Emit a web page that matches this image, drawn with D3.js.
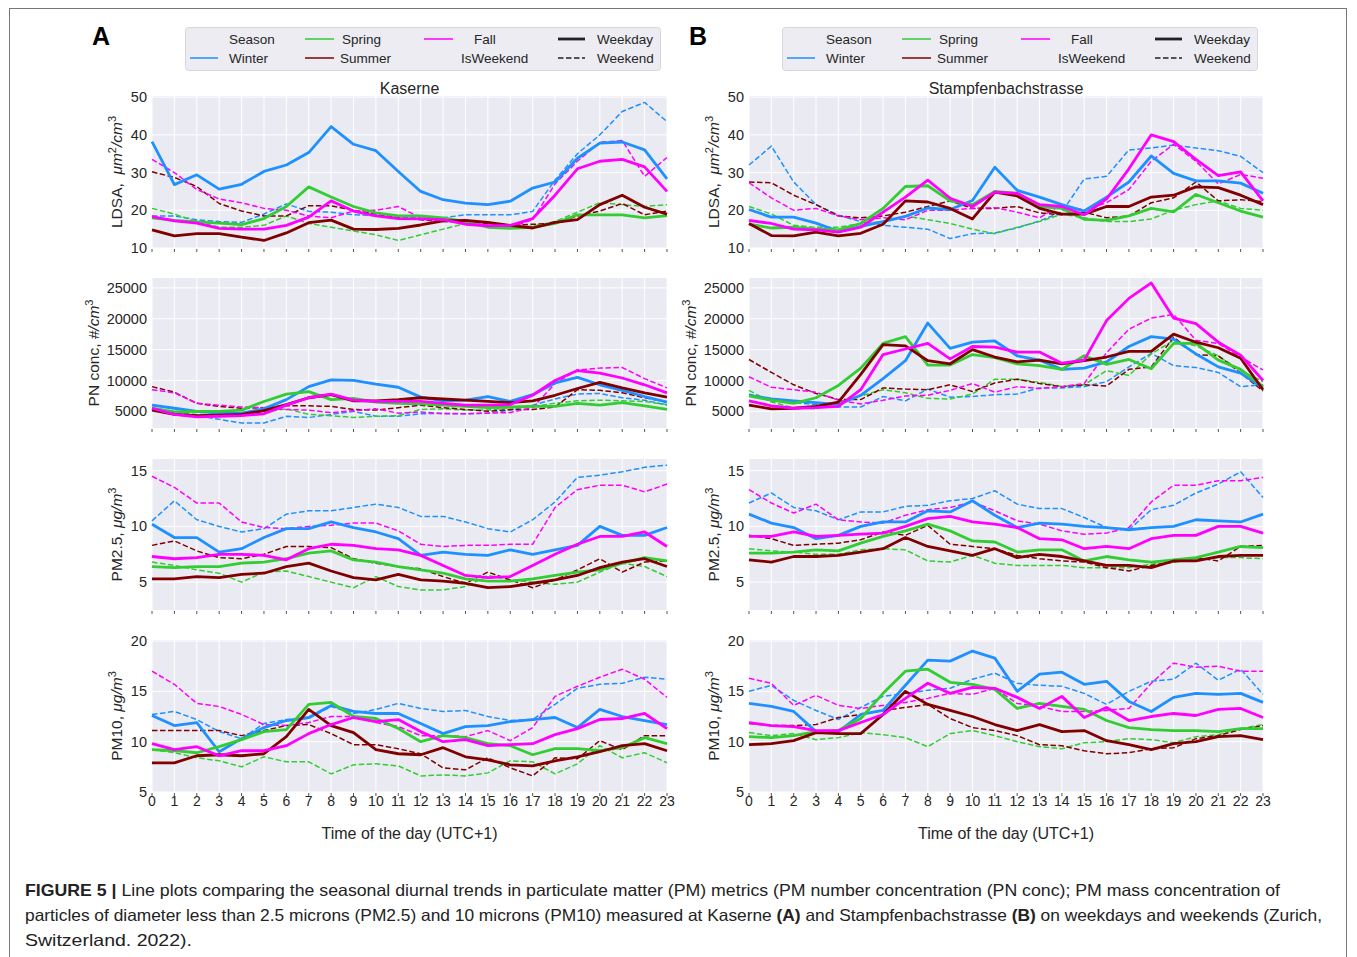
<!DOCTYPE html>
<html><head><meta charset="utf-8">
<script src="https://cdn.jsdelivr.net/npm/d3@7"></script>
<style>body{margin:0;background:#fff}svg{display:block}text{white-space:pre}</style>
</head><body>
<svg id="chart" width="1357" height="957"></svg>
<script>
// ---------------- data ----------------
const hours = [0,1,2,3,4,5,6,7,8,9,10,11,12,13,14,15,16,17,18,19,20,21,22,23];
const seasons = ["Winter","Spring","Summer","Fall"];
const dayTypes = ["Weekday","Weekend"];
const sites = ["Kaserne","Stampfenbachstrasse"];
const metrics = ["LDSA","PN","PM25","PM10"];
const ticksLDSA = [10,20,30,40,50];
const ticksPN = [5000,10000,15000,20000,25000];
const ticksPM25 = [5,10,15];
const ticksPM10 = [5,10,15,20];

// Kaserne – LDSA (µm²/cm³)
const kasLdsaWinterWd = [38.2,26.8,29.4,25.6,26.9,30.3,32,35.3,42.2,37.5,35.8,30.3,25,22.8,21.9,21.5,22.4,25.9,27.5,33.8,37.8,38.1,36,28.3];
const kasLdsaWinterWe = [18.5,18.5,17.5,17,16.8,19,21.7,19.7,19.5,18.8,18.6,18.4,17.8,18,18.8,18.8,18.8,19.7,28,35,40,46.2,48.6,43.5];
const kasLdsaSpringWd = [18,17.3,16.9,16.6,16.2,17.8,21,26.2,23.5,21,19.3,18.5,18.5,18,17,15.5,15.2,15.5,16.5,18.8,18.8,18.8,18,18.6];
const kasLdsaSpringWe = [20.5,19,17,15.5,15.5,16,18.5,16.5,15.5,14.5,13.5,12,13.5,15,16.5,16,15.5,15.8,17,19.5,22,21.5,21,21.5];
const kasLdsaSummerWd = [14.8,13.2,13.8,13.8,12.9,12,14,16.7,17.4,15,14.9,15.2,16.1,17.2,17.3,16.8,16,15.3,16.8,17.5,21.5,24,20.8,19];
const kasLdsaSummerWe = [30.2,28.7,26.3,21.8,19.8,18.5,18.5,21.2,21.2,20,19,18,17.5,17,17,16.5,16,16.3,16.5,18.5,19.8,21.8,18.8,19.8];
const kasLdsaFallWd = [18.3,17.2,16.6,15.2,15,15,16,18.2,22.5,19.8,18.5,17.8,17.7,17.5,16.3,15.9,16,17.8,24,31,33,33.5,31.5,25];
const kasLdsaFallWe = [33.5,30,25.5,23,22,20.5,20,18.5,18,19.8,20,21,18,17.5,17,16,15.5,17.5,27,33,38,38.5,29,34];

// Stampfenbachstrasse – LDSA
const staLdsaWinterWd = [20.2,18.2,18.2,16.6,14.4,15.7,17,18.4,20.6,20.2,22.6,31.4,25.3,23.5,21.5,19.8,23.5,27.5,34.4,29.8,27.8,27.8,27.2,24.5];
const staLdsaWinterWe = [32,37,27.5,21.5,18.7,17,16,15.5,15,12.5,13.8,14,15.3,17.2,19.5,28.3,29,36,36.5,37.3,36.5,35.8,34.3,30];
const staLdsaSpringWd = [16.3,15.3,15.5,15,14.8,16.5,20.5,26.3,26.5,22.5,21.5,25,24.5,21,20.5,17.6,17.3,18.5,20.5,19.6,24.2,22,19.8,18.2];
const staLdsaSpringWe = [21,19,16,15.5,15.5,16.5,17,18.5,17.5,16.5,15,13.8,15.5,17,19,18,17,17,17.7,20,21.5,22.5,20.5,20];
const staLdsaSummerWd = [16.5,13.3,13.2,14.2,13.2,13.9,16.3,22.5,22.2,20.5,17.7,24.8,23.8,20.5,19,19,21,21,23.5,24,26.2,26,24,21.5];
const staLdsaSummerWe = [27.5,27.3,24,21.5,18.5,18,18.5,19.5,21,22.5,20.5,20.5,21,19.3,18.8,19.5,18,18.5,22,23.3,27.5,22.5,22.8,22.3];
const staLdsaFallWd = [17.3,16.5,15,14.8,14.2,15.5,19.5,23.5,28,23.2,21,24.8,24.5,21.5,21,18.8,23,31,40,38.2,33.5,29.2,30.2,22.5];
const staLdsaFallWe = [27.3,23.3,20,20.5,18.5,17.5,18,17.5,20,20,20.5,20.7,19.5,18,21.5,20,22,25.5,33,37.5,33,27,29.5,28.5];

// Kaserne – PN conc (#/cm³)
const kasPnWinterWd = [6000,5500,5000,4700,4700,5400,6900,9000,10100,10000,9400,8900,7300,6700,6800,7400,6600,7700,9600,10500,9300,8400,7400,6500];
const kasPnWinterWe = [5500,5000,4300,3700,3100,3100,4200,4000,4500,5000,4200,4200,4600,4700,4600,4700,5200,6000,7000,7800,7900,7200,6800,6000];
const kasPnSpringWd = [5500,4900,5000,5000,5200,6600,7800,8200,6900,7100,6500,6300,6200,6000,5800,5600,5700,5800,5800,6300,6000,6400,5900,5300];
const kasPnSpringWe = [5200,4800,4500,4500,4600,4900,5400,4500,4300,4000,4200,4300,5300,5400,5200,5200,5600,5800,6300,6700,6800,6700,6600,6100];
const kasPnSummerWd = [5200,4500,4300,4400,4500,5100,6100,7200,7700,6700,6700,6900,7200,7000,6800,6600,6400,6700,7600,8700,9700,8800,8000,7300];
const kasPnSummerWe = [9000,8100,6300,5800,5500,5600,5900,5900,5800,5300,5200,5600,6000,5600,5300,5000,5300,5300,5700,8500,8400,8000,7200,6500];
const kasPnFallWd = [5500,4500,4100,4200,4300,4600,6000,7200,7800,6800,6600,6600,6600,6300,6000,6000,6100,7600,10000,11600,11200,10400,9300,8000];
const kasPnFallWe = [8500,8000,6300,6000,5700,5600,5300,5200,4800,5100,5400,4700,4900,4600,4600,4700,4800,5600,9500,11700,12000,12100,10300,8800];

// Stampfenbachstrasse – PN conc
const staPnWinterWd = [7600,7000,6700,6400,6100,7600,10300,13200,19300,15200,16200,16400,14000,13300,11800,12000,13000,15500,17100,16700,14300,12200,11200,8800];
const staPnWinterWe = [7800,6700,6400,6100,5700,5700,7400,6700,8600,7300,7400,7700,7800,8800,8800,9000,9800,12200,14400,12400,12100,11300,9000,9300];
const staPnSpringWd = [7500,6800,6300,7200,9200,12000,16000,17100,12500,12500,14200,13700,12700,12400,11800,14000,12600,13400,11900,16000,16000,13300,11800,9000];
const staPnSpringWe = [8400,6500,5600,5400,6500,7500,8500,8000,7100,7000,7800,10200,10200,9700,9000,9300,11600,10800,14300,16500,15600,14000,11600,9800];
const staPnSummerWd = [6000,5400,5500,5800,6500,11000,15800,15600,13200,12700,15000,13800,13000,13300,12700,13200,13800,14700,14700,17500,16200,15300,13600,8500];
const staPnSummerWe = [13400,11300,9300,7900,6900,6900,8800,8600,8500,9300,8200,9600,10200,9500,9000,9300,9100,11800,12200,17000,14200,14000,11200,8300];
const staPnFallWd = [6700,5900,5500,5600,5800,8500,14200,15100,16000,13500,15500,15400,14600,14600,12800,13300,19700,23300,25800,20100,19200,16200,14100,10000];
const staPnFallWe = [10600,8900,8500,8100,6800,6200,6800,7500,7600,8400,9500,8100,9000,8700,9000,9500,14500,18300,20100,20700,16500,16000,13800,11700];

// Kaserne – PM2.5 (µg/m³)
const kasPm25WinterWd = [10.2,9,9,7.7,8,9,9.8,9.8,10.4,9.9,9.5,8.9,7.4,7.7,7.5,7.4,7.9,7.5,7.9,8.3,10,9.2,9.2,9.9];
const kasPm25WinterWe = [10.5,12.3,10.6,10,9.5,9.8,11.1,11.4,11.4,11.7,12,11.7,10.9,10.9,10.4,9.8,9.5,10.6,12.2,14.4,14.6,14.9,15.3,15.5];
const kasPm25SpringWd = [6.4,6.3,6.4,6.4,6.7,6.8,7.1,7.6,7.8,7,6.8,6.4,6.1,5.8,5.3,5.1,5.1,5.3,5.6,5.9,6.1,6.7,7.2,6.9];
const kasPm25SpringWe = [6.8,6.5,6.1,5.8,5,5.9,6,5.5,5,4.5,5.5,4.6,4.3,4.3,4.6,5.6,5.2,5,4.8,5,5.9,6.7,6.4,5.5];
const kasPm25SummerWd = [5.3,5.3,5.5,5.4,5.7,5.8,6.4,6.7,6,5.4,5.2,5.7,5.2,5.1,4.9,4.5,4.6,4.9,5.2,5.6,6.3,6.8,7.1,6.4];
const kasPm25SummerWe = [8.3,8.7,7.8,7.2,7.1,7.5,8.2,8.2,8.1,7.1,6.7,6.4,6.2,5.5,4.9,5.9,5.2,4.5,5.2,6.1,7.1,5.9,6.8,6.9];
const kasPm25FallWd = [7.3,7.1,7.2,7.5,7.5,7.4,7,8,8.4,8.3,8,7.9,7.4,6.5,5.6,5.4,5.5,6.5,7.5,8.4,9.1,9.1,9.5,8.2];
const kasPm25FallWe = [14.5,13.5,12.1,12.1,10.4,9.9,9.8,10,10.1,10.3,10.3,9.6,8.4,8.2,8.3,8.3,8.4,8.4,11.7,13.3,13.7,13.7,13.1,13.8];

// Stampfenbachstrasse – PM2.5
const staPm25WinterWd = [11.1,10.3,9.9,8.9,9.2,10,10.4,10.4,11.4,11.3,12.3,11,9.9,10.3,10.2,10,9.9,9.7,9.9,10,10.6,10.5,10.4,11.1];
const staPm25WinterWe = [12.1,13,11.7,11.4,10.6,11.3,11.3,11.8,11.9,12.3,12.5,13.2,12,11.6,11.6,10.8,9.9,9.7,11.5,11.9,13,13.8,14.9,12.6];
const staPm25SpringWd = [7.6,7.6,7.7,7.9,7.8,8.5,9.1,9.6,10.2,9.6,8.7,8.6,7.7,7.9,7.9,6.9,7.3,7,6.8,7,7.2,7.7,8.2,8.1];
const staPm25SpringWe = [8,7.8,7.7,7.5,7.5,7.9,8,7.9,6.9,6.8,7.4,6.7,6.5,6.5,6.5,6.3,6.3,6.3,6.6,6.8,7,7.2,7.2,7.1];
const staPm25SummerWd = [7,6.8,7.3,7.3,7.4,7.7,8,9,8.2,7.8,7.4,8,7.2,7.5,7.3,6.9,6.5,6.5,6.3,6.9,6.9,7.3,7.4,7.4];
const staPm25SummerWe = [9.2,8.9,8.3,8.4,8.5,8.8,9.5,9.2,10.1,8.4,8.2,8,7.4,7.1,6.9,6.8,6.3,6,6.5,6.8,7.2,6.9,8.2,8.3];
const staPm25FallWd = [9.1,9.1,9.5,9.1,9.2,9.3,9.4,10,10.7,10.9,10.4,10.2,9.9,8.9,8.8,8,8.2,8,8.9,9.2,9.2,10,10,9.4];
const staPm25FallWe = [13.3,12.1,11.2,12,10.6,10.4,10.3,11,11.5,11.7,12.2,11.4,10.5,10.2,9.6,9.3,9.4,9.9,12.2,13.7,13.7,14.1,14.1,14.4];

// Kaserne – PM10 (µg/m³)
const kasPm10WinterWd = [12.6,11.6,11.9,9,10.3,11.4,12.1,12.4,13.6,13,12.8,12.8,11.8,10.8,11.5,11.6,12,12.2,12.4,11.4,13.2,12.5,12.1,11.7];
const kasPm10WinterWe = [12.7,13,12.2,11,10.3,11.8,12.2,12.3,13.5,12.8,13.2,13.8,13.3,13,13.1,12.5,12.1,12.2,13.7,15.3,15.7,15.8,16.4,16.2];
const kasPm10SpringWd = [9.2,9.1,8.9,9.5,10.2,11,11.2,13.7,13.9,12.5,12.3,11.3,10,10.6,10.4,9.8,9.6,8.7,9.3,9.3,9.1,9.4,10.4,9.8];
const kasPm10SpringWe = [9.2,8.9,8.4,8.1,7.5,8.5,8,8,6.8,7.7,7.8,7.6,6.6,6.7,6.6,6.9,8.1,8,6.8,7.8,9.6,8.4,8.9,7.9];
const kasPm10SummerWd = [7.9,7.9,8.6,8.7,8.6,8.8,10.5,13.2,11.6,10.9,9.2,8.8,8.7,9.4,8.5,8.2,7.7,7.6,8.1,8.5,9,9.6,9.8,9.1];
const kasPm10SummerWe = [11.1,11.1,11.1,11.1,10.6,11.1,11.6,11.7,10.8,9.7,9.7,9.3,8.8,7.4,7.2,8.4,7.4,6.6,8.4,8.3,10.1,9.2,10.6,10.6];
const kasPm10FallWd = [9.8,9.2,9.5,8.6,9.1,9.1,9.6,10.8,11.7,12.4,12,12.2,11,10,10.2,9.6,9.7,9.8,10.7,11.3,12.2,12.3,12.8,11.3];
const kasPm10FallWe = [17,15.7,13.8,13.5,12.7,11.7,11.6,11.9,12.5,12.5,11.9,11.5,10.6,10.6,10.5,11.1,10.1,11.4,14.5,15.5,16.4,17.2,16.2,14.4];

// Stampfenbachstrasse – PM10
const staPm10WinterWd = [13.8,13.5,13,11,11,12.7,13.1,15.6,18.1,18,19,18.3,15,16.7,16.9,15.7,16,14,13,14.4,14.8,14.7,14.8,13.9];
const staPm10WinterWe = [15,15.6,14.1,13.1,12.2,13.4,14.5,14.8,15.1,15.3,16.2,16.8,15.8,15.6,15.5,14.8,13.7,15,16,16.2,17.8,16.1,17.2,14.7];
const staPm10SpringWd = [10.5,10.4,10.6,11,11.1,12.3,14.8,17,17.2,15.9,15.7,15.2,13.3,13.8,13.5,13.2,12.1,11.4,11.2,11.1,11.1,11,11.3,11.3];
const staPm10SpringWe = [10.9,10.6,10.8,10.2,10.4,10.9,10.7,10.4,9.5,10.8,11.1,10.6,10,9.5,9.3,9.9,10,10.3,10.2,9.9,10.5,10.7,11.3,11.7];
const staPm10SummerWd = [9.7,9.8,10.1,10.9,10.8,10.8,12.7,15,13.7,13.1,12.5,11.7,11.1,11.7,11,11.1,10.1,9.7,9.2,9.8,10,10.5,10.6,10.2];
const staPm10SummerWe = [11.8,11.6,11.6,11.7,12.4,12.7,13.1,13.4,13.7,12.3,11.4,11.1,10.6,9.7,9.6,9.1,8.8,8.9,9.3,9.4,10.3,10.6,11.2,11.6];
const staPm10FallWd = [11.9,11.6,11.5,11.1,11.1,11.9,12.7,14.3,15.8,14.8,15.4,15.3,14.4,13.3,14.5,12.4,13.4,12.1,12.5,12.8,12.6,13.2,13.3,12.4];
const staPm10FallWe = [16.3,15.8,13.6,14.6,13.6,13.3,13.6,13.9,14.3,14.8,14.7,15.3,13.8,13.5,13,13,13.1,13.3,15.8,17.8,17.4,17.5,17,17];

// lookup table built from the arrays above
const table = {
  Kaserne: {
    LDSA: {Winter:[kasLdsaWinterWd,kasLdsaWinterWe],Spring:[kasLdsaSpringWd,kasLdsaSpringWe],Summer:[kasLdsaSummerWd,kasLdsaSummerWe],Fall:[kasLdsaFallWd,kasLdsaFallWe]},
    PN:   {Winter:[kasPnWinterWd,kasPnWinterWe],Spring:[kasPnSpringWd,kasPnSpringWe],Summer:[kasPnSummerWd,kasPnSummerWe],Fall:[kasPnFallWd,kasPnFallWe]},
    PM25: {Winter:[kasPm25WinterWd,kasPm25WinterWe],Spring:[kasPm25SpringWd,kasPm25SpringWe],Summer:[kasPm25SummerWd,kasPm25SummerWe],Fall:[kasPm25FallWd,kasPm25FallWe]},
    PM10: {Winter:[kasPm10WinterWd,kasPm10WinterWe],Spring:[kasPm10SpringWd,kasPm10SpringWe],Summer:[kasPm10SummerWd,kasPm10SummerWe],Fall:[kasPm10FallWd,kasPm10FallWe]}
  },
  Stampfenbachstrasse: {
    LDSA: {Winter:[staLdsaWinterWd,staLdsaWinterWe],Spring:[staLdsaSpringWd,staLdsaSpringWe],Summer:[staLdsaSummerWd,staLdsaSummerWe],Fall:[staLdsaFallWd,staLdsaFallWe]},
    PN:   {Winter:[staPnWinterWd,staPnWinterWe],Spring:[staPnSpringWd,staPnSpringWe],Summer:[staPnSummerWd,staPnSummerWe],Fall:[staPnFallWd,staPnFallWe]},
    PM25: {Winter:[staPm25WinterWd,staPm25WinterWe],Spring:[staPm25SpringWd,staPm25SpringWe],Summer:[staPm25SummerWd,staPm25SummerWe],Fall:[staPm25FallWd,staPm25FallWe]},
    PM10: {Winter:[staPm10WinterWd,staPm10WinterWe],Spring:[staPm10SpringWd,staPm10SpringWe],Summer:[staPm10SummerWd,staPm10SummerWe],Fall:[staPm10FallWd,staPm10FallWe]}
  }
};
const metricTicks = {LDSA: ticksLDSA, PN: ticksPN, PM25: ticksPM25, PM10: ticksPM10};

// ---------------- styling / layout ----------------
const seasonColor = {Winter:"#1E90FF", Spring:"#32CD32", Summer:"#800000", Fall:"#FF00FF"};
const FONT = "'Liberation Sans', Arial, Helvetica, sans-serif";
const TXT = "#262626";
const panelX = [[152, 667], [749, 1263]];
const rowY = {LDSA:[96, 248], PN:[278, 428], PM25:[459, 610], PM10:[640, 792]};
const yDomain = {LDSA:[10, 50.3], PN:[2300, 26600], PM25:[2.5, 16.05], PM10:[5, 20.1]};
const yLabelOffset = {LDSA:30, PN:53, PM25:30, PM10:30};
const yLabelParts = {
  LDSA: [{t:"LDSA,  "},{t:"μm",i:1},{t:"2",s:1},{t:"/cm",i:1},{t:"3",s:1}],
  PN:   [{t:"PN conc, "},{t:"#/cm",i:1},{t:"3",s:1}],
  PM25: [{t:"PM2.5, "},{t:"μg/m",i:1},{t:"3",s:1}],
  PM10: [{t:"PM10, "},{t:"μg/m",i:1},{t:"3",s:1}]
};
const fmt = d3.format("d");

const svg = d3.select("#chart");
svg.append("rect").attr("x",9.5).attr("y",8.5).attr("width",1337).attr("height",1000)
  .attr("fill","none").attr("stroke","#777").attr("stroke-width",1);

sites.forEach((site, si) => {
  const [x0, x1] = panelX[si];
  const x = d3.scaleLinear().domain([0, 23]).range([x0, x1]);
  const g = svg.append("g");

  // panel letter
  g.append("text").attr("x", si ? 689 : 92).attr("y", 45).attr("font-family", FONT)
    .attr("font-weight", "bold").attr("font-size", 25).attr("fill", "#000").text(si ? "B" : "A");

  // title
  g.append("text").attr("x", (x0 + x1) / 2).attr("y", 94).attr("text-anchor", "middle")
    .attr("font-family", FONT).attr("font-size", 16).attr("fill", TXT).text(site);

  metrics.forEach((m, mi) => {
    const [yt, yb] = rowY[m];
    const y = d3.scaleLinear().domain(yDomain[m]).range([yb, yt]);
    const pg = g.append("g");
    pg.append("rect").attr("x", x0).attr("y", yt).attr("width", x1 - x0).attr("height", yb - yt).attr("fill", "#EAEAF2");
    // grid
    pg.selectAll(".vg").data(hours).join("line")
      .attr("x1", d => x(d)).attr("x2", d => x(d)).attr("y1", yt).attr("y2", yb)
      .attr("stroke", "#fff").attr("stroke-width", 1);
    pg.selectAll(".hg").data(metricTicks[m]).join("line")
      .attr("x1", x0).attr("x2", x1).attr("y1", d => y(d)).attr("y2", d => y(d))
      .attr("stroke", "#fff").attr("stroke-width", 1);
    // x tick marks
    pg.selectAll(".xt").data(hours).join("line")
      .attr("x1", d => x(d)).attr("x2", d => x(d)).attr("y1", yb + 1).attr("y2", yb + 4)
      .attr("stroke", "#555").attr("stroke-width", 1);
    // y tick labels
    pg.selectAll(".yl").data(metricTicks[m]).join("text")
      .attr("x", x0 - 5).attr("y", d => y(d)).attr("dy", "0.35em").attr("text-anchor", "end")
      .attr("font-family", FONT).attr("font-size", 14.5).attr("fill", TXT).text(d => fmt(d));
    // x tick labels for bottom row
    if (m === "PM10") {
      pg.selectAll(".xl").data(hours).join("text")
        .attr("x", d => x(d)).attr("y", yb + 14).attr("text-anchor", "middle")
        .attr("font-family", FONT).attr("font-size", 14).attr("fill", TXT).text(d => fmt(d));
      pg.append("text").attr("x", (x0 + x1) / 2).attr("y", 839).attr("text-anchor", "middle")
        .attr("font-family", FONT).attr("font-size", 16).attr("fill", TXT).text("Time of the day (UTC+1)");
    }
    // y axis label
    const yl = pg.append("text")
      .attr("transform", `translate(${x0 - yLabelOffset[m]},${(yt + yb) / 2}) rotate(-90)`)
      .attr("text-anchor", "middle").attr("font-family", FONT).attr("font-size", 15.5).attr("fill", TXT);
    let raised = false;
    yLabelParts[m].forEach(p => {
      const ts = yl.append("tspan").text(p.t);
      if (p.i) ts.attr("font-style", "italic");
      if (p.s) { ts.attr("font-size", 11).attr("dy", -6); raised = true; }
      else if (raised) { ts.attr("dy", 6); raised = false; }
    });

    // lines
    const line = d3.line().x((d, i) => x(hours[i])).y(d => y(d));
    [1, 0].forEach(di => {
      seasons.forEach(s => {
        pg.append("path").datum(table[site][m][s][di])
          .attr("d", line).attr("fill", "none").attr("stroke", seasonColor[s])
          .attr("stroke-width", di === 0 ? 2.8 : 1.5)
          .attr("stroke-dasharray", di === 0 ? null : "5.5,2.5")
          .attr("stroke-linejoin", "round");
      });
    });
  });

  // legend
  const LX = si ? 782 : 185;
  const lg = g.append("g");
  lg.append("rect").attr("x", LX + 0.5).attr("y", 27.5).attr("width", 475).attr("height", 43).attr("rx", 3)
    .attr("fill", "#ECECF2").attr("stroke", "#D6D6DC");
  const r1 = 39, r2 = 58;
  const legItems = [
    {text:"Season", tx:44, y:r1},
    {text:"Winter", tx:44, y:r2, c:seasonColor.Winter, lx:[5,33]},
    {text:"Spring", tx:157, y:r1, c:seasonColor.Spring, lx:[120,149]},
    {text:"Summer", tx:155, y:r2, c:seasonColor.Summer, lx:[120,149]},
    {text:"Fall", tx:289, y:r1, c:seasonColor.Fall, lx:[239,268]},
    {text:"IsWeekend", tx:276, y:r2},
    {text:"Weekday", tx:412, y:r1, c:"#222", lx:[373,400], w:2.8},
    {text:"Weekend", tx:412, y:r2, c:"#222", lx:[373,400], w:1.5, dash:"5.5,2.5"}
  ];
  legItems.forEach(it => {
    if (it.c) {
      lg.append("line").attr("x1", LX + it.lx[0]).attr("x2", LX + it.lx[1]).attr("y1", it.y).attr("y2", it.y)
        .attr("stroke", it.c).attr("stroke-width", it.w || 1.5).attr("stroke-dasharray", it.dash || null);
    }
    lg.append("text").attr("x", LX + it.tx).attr("y", it.y).attr("dy", "0.35em")
      .attr("font-family", FONT).attr("font-size", 13.5).attr("fill", TXT).text(it.text);
  });
});

// caption
const CAP = "'Liberation Sans', Arial, sans-serif";
const capLines = [
  {y:896, len:1255, parts:[{t:"FIGURE 5 |", b:1},{t:" Line plots comparing the seasonal diurnal trends in particulate matter (PM) metrics (PM number concentration (PN conc); PM mass concentration of"}]},
  {y:921, len:1297, parts:[{t:"particles of diameter less than 2.5 microns (PM2.5) and 10 microns (PM10) measured at Kaserne "},{t:"(A)",b:1},{t:" and Stampfenbachstrasse "},{t:"(B)",b:1},{t:" on weekdays and weekends (Zurich,"}]},
  {y:946, len:167, parts:[{t:"Switzerland. 2022)."}]}
];
capLines.forEach(l => {
  const t = svg.append("text").attr("x", 25).attr("y", l.y).attr("font-family", CAP)
    .attr("font-size", 16.5).attr("fill", "#222")
    .attr("textLength", l.len).attr("lengthAdjust", "spacingAndGlyphs");
  l.parts.forEach(p => { const ts = t.append("tspan").text(p.t); if (p.b) ts.attr("font-weight", "bold"); });
});
</script>
</body></html>
